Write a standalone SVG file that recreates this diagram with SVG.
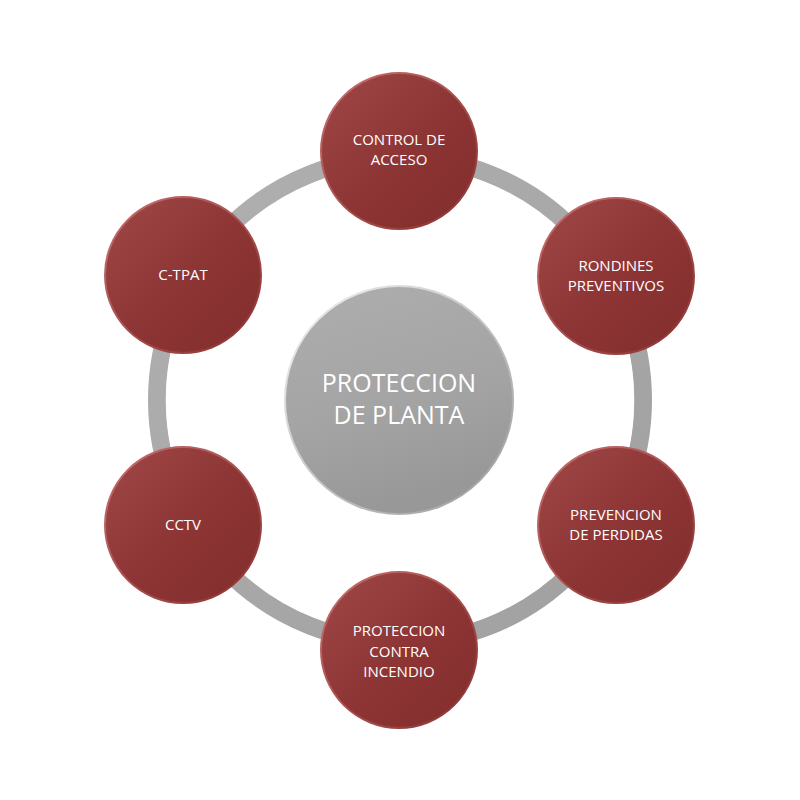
<svg xmlns="http://www.w3.org/2000/svg" width="800" height="800" viewBox="0 0 800 800">
<defs>
<linearGradient id="red" x1="0" y1="0" x2="1" y2="1">
<stop offset="0" stop-color="#a04848"/>
<stop offset="0.5" stop-color="#8e3535"/>
<stop offset="1" stop-color="#822d2d"/>
</linearGradient>
<linearGradient id="redrim" x1="0" y1="0" x2="1" y2="1">
<stop offset="0" stop-color="#c87070"/>
<stop offset="1" stop-color="#8a3232"/>
</linearGradient>
<linearGradient id="gray" x1="0" y1="0" x2="0.3" y2="1">
<stop offset="0" stop-color="#aeaeae"/>
<stop offset="0.6" stop-color="#a4a4a4"/>
<stop offset="1" stop-color="#989898"/>
</linearGradient>
<linearGradient id="grayrim" x1="0" y1="0" x2="1" y2="1">
<stop offset="0" stop-color="#f2f2f2"/>
<stop offset="1" stop-color="#9a9a9a"/>
</linearGradient>
<linearGradient id="ringg" x1="0" y1="0" x2="1" y2="1">
<stop offset="0" stop-color="#b0b0b0"/>
<stop offset="1" stop-color="#a0a0a0"/>
</linearGradient>
</defs>
<style>
.node circle{fill:url(#red);stroke:url(#redrim);stroke-width:2}
.lbl{font-family:"Open Sans","Liberation Sans",sans-serif;font-size:15px;fill:#ffffff;text-anchor:middle}
.clbl{font-family:"Open Sans","Liberation Sans",sans-serif;font-size:25px;fill:#ffffff;text-anchor:middle}
</style>
<rect width="800" height="800" fill="#ffffff"/>
<g id="connectors">
<circle cx="400" cy="400" r="243" fill="none" stroke="url(#ringg)" stroke-width="18"/>
<circle cx="400" cy="400" r="233.5" fill="none" stroke="#ffffff" stroke-width="1.5" opacity="0.9"/>
</g>
<g id="center">
<circle cx="399" cy="400" r="114" fill="url(#gray)" stroke="url(#grayrim)" stroke-width="2"/>
<text class="clbl" x="399" y="392">PROTECCION</text>
<text class="clbl" x="399" y="424">DE PLANTA</text>
</g>
<g id="n-control" class="node">
<circle cx="399" cy="151" r="78"/>
<text class="lbl" x="399" y="145">CONTROL DE</text>
<text class="lbl" x="399" y="165">ACCESO</text>
</g>
<g id="n-rondines" class="node">
<circle cx="616" cy="276" r="78"/>
<text class="lbl" x="616" y="271">RONDINES</text>
<text class="lbl" x="616" y="291">PREVENTIVOS</text>
</g>
<g id="n-prevencion" class="node">
<circle cx="616" cy="525" r="78"/>
<text class="lbl" x="616" y="520">PREVENCION</text>
<text class="lbl" x="616" y="540">DE PERDIDAS</text>
</g>
<g id="n-incendio" class="node">
<circle cx="399" cy="650" r="78"/>
<text class="lbl" x="399" y="636">PROTECCION</text>
<text class="lbl" x="399" y="657">CONTRA</text>
<text class="lbl" x="399" y="677">INCENDIO</text>
</g>
<g id="n-cctv" class="node">
<circle cx="183" cy="525" r="78"/>
<text class="lbl" x="183" y="530">CCTV</text>
</g>
<g id="n-ctpat" class="node">
<circle cx="183" cy="275" r="78"/>
<text class="lbl" x="183" y="280">C-TPAT</text>
</g>
</svg>
